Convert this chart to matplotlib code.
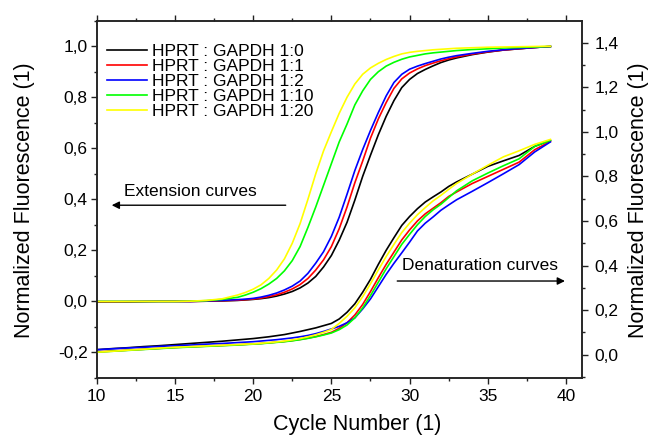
import matplotlib
matplotlib.use("Agg")
import matplotlib.pyplot as plt
from matplotlib.ticker import MultipleLocator, FuncFormatter

plt.rcParams['font.family'] = ['Liberation Sans', 'DejaVu Sans']

# ---------------- data ----------------
cycles = [10, 11, 12, 13, 14, 15, 16, 17, 18, 19,
          19.5, 20, 20.5, 21, 21.5, 22, 22.5, 23, 23.5, 24, 24.5, 25, 25.5, 26,
          26.5, 27, 27.5, 28, 28.5, 29, 29.5, 30, 30.5, 31, 31.5, 32, 32.5, 33,
          34, 35, 36, 37, 38, 39]

labels = ["HPRT : GAPDH 1:0", "HPRT : GAPDH 1:1", "HPRT : GAPDH 1:2",
          "HPRT : GAPDH 1:10", "HPRT : GAPDH 1:20"]
colors = ["#000000", "#ff0000", "#0000ff", "#00ff00", "#ffff00"]

# extension curves (left axis)
ext_1_0 = [-0.003, -0.002, -0.002, -0.001, 0, 0, 0, 0.001, 0.002, 0.004,
           0.006, 0.008, 0.011, 0.015, 0.021, 0.029, 0.039, 0.053, 0.072, 0.098,
           0.135, 0.18, 0.24, 0.31, 0.397, 0.49, 0.573, 0.653, 0.725, 0.787,
           0.838, 0.87, 0.893, 0.909, 0.923, 0.936, 0.946, 0.954,
           0.967, 0.977, 0.985, 0.99, 0.995, 0.999]
ext_1_1 = [-0.002, -0.002, -0.001, 0, 0, 0, 0, 0.001, 0.003, 0.005,
           0.007, 0.009, 0.013, 0.019, 0.026, 0.036, 0.049, 0.066, 0.09, 0.123,
           0.163, 0.215, 0.285, 0.37, 0.465, 0.55, 0.64, 0.715, 0.779, 0.835,
           0.872, 0.895, 0.911, 0.924, 0.934, 0.943, 0.951, 0.958,
           0.969, 0.978, 0.985, 0.99, 0.995, 0.999]
ext_1_2 = [0, 0, 0, 0, 0, 0, 0, 0.002, 0.004, 0.007,
           0.009, 0.012, 0.017, 0.024, 0.033, 0.045, 0.06, 0.08, 0.11, 0.15,
           0.195, 0.255, 0.33, 0.42, 0.513, 0.595, 0.67, 0.74, 0.805, 0.858,
           0.89, 0.91, 0.922, 0.932, 0.941, 0.95, 0.957, 0.963,
           0.972, 0.98, 0.986, 0.991, 0.995, 0.999]
ext_1_10 = [0, 0, 0, 0, 0, 0, 0.001, 0.003, 0.008, 0.016,
            0.025, 0.036, 0.05, 0.068, 0.09, 0.12, 0.16, 0.215, 0.29, 0.37,
            0.455, 0.54, 0.625, 0.695, 0.77, 0.825, 0.87, 0.9, 0.922, 0.937,
            0.949, 0.958, 0.964, 0.97, 0.974, 0.977, 0.98, 0.983,
            0.987, 0.99, 0.993, 0.995, 0.997, 0.999]
ext_1_20 = [0, 0, 0, 0, 0, 0, 0.001, 0.004, 0.01, 0.025,
            0.035, 0.048, 0.065, 0.09, 0.123, 0.167, 0.228, 0.305, 0.40, 0.50,
            0.59, 0.665, 0.737, 0.80, 0.852, 0.89, 0.915, 0.933, 0.948, 0.96,
            0.97, 0.976, 0.98, 0.983, 0.986, 0.988, 0.99, 0.992,
            0.994, 0.996, 0.997, 0.998, 0.999, 1.0]

# denaturation curves (right axis)
den_1_0 = [0.022, 0.027, 0.031, 0.036, 0.04, 0.045, 0.05, 0.055, 0.06, 0.066,
           0.069, 0.072, 0.076, 0.08, 0.085, 0.09, 0.097, 0.104, 0.112, 0.12,
           0.13, 0.14, 0.16, 0.19, 0.228, 0.28, 0.338, 0.405, 0.468, 0.525,
           0.58, 0.62, 0.655, 0.685, 0.708, 0.73, 0.755, 0.775,
           0.81, 0.845, 0.87, 0.894, 0.935, 0.962]
den_1_1 = [0.012, 0.016, 0.02, 0.024, 0.028, 0.032, 0.035, 0.038, 0.041, 0.044,
           0.046, 0.048, 0.05, 0.053, 0.056, 0.059, 0.063, 0.068, 0.074, 0.081,
           0.09, 0.1, 0.118, 0.143, 0.178, 0.225, 0.283, 0.345, 0.405, 0.46,
           0.515, 0.56, 0.6, 0.632, 0.657, 0.682, 0.71, 0.73,
           0.768, 0.8, 0.832, 0.864, 0.92, 0.957]
den_1_2 = [0.022, 0.026, 0.03, 0.033, 0.037, 0.04, 0.043, 0.047, 0.05, 0.054,
           0.056, 0.058, 0.061, 0.064, 0.067, 0.071, 0.075, 0.08, 0.086, 0.094,
           0.104, 0.115, 0.127, 0.143, 0.165, 0.205, 0.25, 0.305, 0.36, 0.41,
           0.457, 0.505, 0.555, 0.59, 0.618, 0.648, 0.672, 0.695,
           0.733, 0.772, 0.812, 0.853, 0.91, 0.955]
den_1_10 = [0.011, 0.015, 0.019, 0.023, 0.027, 0.031, 0.034, 0.037, 0.04, 0.043,
            0.045, 0.047, 0.049, 0.052, 0.055, 0.058, 0.062, 0.067, 0.073, 0.08,
            0.088, 0.097, 0.112, 0.133, 0.165, 0.21, 0.265, 0.325, 0.385, 0.44,
            0.495, 0.54, 0.583, 0.62, 0.65, 0.675, 0.705, 0.735,
            0.78, 0.815, 0.848, 0.879, 0.935, 0.962]
den_1_20 = [0.011, 0.015, 0.02, 0.024, 0.029, 0.033, 0.036, 0.039, 0.042, 0.045,
            0.047, 0.048, 0.051, 0.054, 0.057, 0.061, 0.066, 0.072, 0.08, 0.089,
            0.1, 0.113, 0.14, 0.172, 0.21, 0.26, 0.318, 0.38, 0.44, 0.495,
            0.548, 0.59, 0.628, 0.66, 0.69, 0.715, 0.742, 0.768,
            0.81, 0.85, 0.888, 0.915, 0.944, 0.966]

extension = [ext_1_0, ext_1_1, ext_1_2, ext_1_10, ext_1_20]
denaturation = [den_1_0, den_1_1, den_1_2, den_1_10, den_1_20]

# ---------------- figure ----------------
W, H = 650, 436
fig = plt.figure(figsize=(W / 100, H / 100), dpi=100)
ax_l, ax_r, ax_t, ax_b = 96.7, 581.7, 20.7, 378.0
ax = fig.add_axes([ax_l / W, 1 - ax_b / H, (ax_r - ax_l) / W, (ax_b - ax_t) / H])
ax2 = ax.twinx()

lw = 1.2
for vals, c, lab in zip(extension, colors, labels):
    ax.plot(cycles, vals, color=c, lw=lw, label=lab)
for vals, c in zip(denaturation, colors):
    ax2.plot(cycles, vals, color=c, lw=lw)

ax.set_xlim(10, 41)
ax.set_ylim(-0.3, 1.1)
ax2.set_ylim(-0.105, 1.499)

fmt = FuncFormatter(lambda v, p: "{:.1f}".format(round(v, 1) + 0.0).replace(".", ","))
fmt_x = FuncFormatter(lambda v, p: "{:d}".format(int(round(v))))

ax.xaxis.set_major_locator(MultipleLocator(5))
ax.xaxis.set_minor_locator(MultipleLocator(2.5))
ax.xaxis.set_major_formatter(fmt_x)
ax.yaxis.set_major_locator(MultipleLocator(0.2))
ax.yaxis.set_minor_locator(MultipleLocator(0.1))
ax.yaxis.set_major_formatter(fmt)
ax2.yaxis.set_major_locator(MultipleLocator(0.2))
ax2.yaxis.set_minor_locator(MultipleLocator(0.1))
ax2.yaxis.set_major_formatter(fmt)

tick_fs = 12.5
spine_c = "#222222"
for a in (ax, ax2):
    for s in a.spines.values():
        s.set_linewidth(1.1)
        s.set_color(spine_c)

ax.tick_params(axis="x", which="both", direction="out", top=True, bottom=True,
               labelsize=tick_fs, colors=spine_c, labelcolor="black")
ax.tick_params(axis="x", which="major", length=4.5, width=1.0, pad=3.5)
ax.tick_params(axis="x", which="minor", length=2.5, width=1.0)
ax.tick_params(axis="y", which="both", direction="out", left=True, right=False,
               labelsize=tick_fs, colors=spine_c, labelcolor="black")
ax.tick_params(axis="y", which="major", length=4.5, width=1.0, pad=2.0)
ax.tick_params(axis="y", which="minor", length=2.5, width=1.0)
ax2.tick_params(axis="y", which="both", direction="out", left=False, right=True,
                labelsize=tick_fs, colors=spine_c, labelcolor="black")
ax2.tick_params(axis="y", which="major", length=4.5, width=1.0, pad=4.5)
ax2.tick_params(axis="y", which="minor", length=2.5, width=1.0)

leg = ax.legend(loc="upper left", bbox_to_anchor=((107 - ax_l) / (ax_r - ax_l), (ax_b - 43.5) / (ax_b - ax_t)),
                frameon=False, fontsize=12.5, handlelength=2.3, handletextpad=0.3,
                labelspacing=0.0, borderpad=0.0, borderaxespad=0.0)

# annotations
ax.annotate("", xy=(10.96, 0.377), xytext=(22.08, 0.377),
            arrowprops=dict(arrowstyle="-|>", color="black", lw=1.0,
                            mutation_scale=11, shrinkA=0, shrinkB=0))
ax.text(11.75, 0.43, "Extension curves", fontsize=12.5, ha="left", va="center")
ax.annotate("", xy=(39.93, 0.08), xytext=(29.21, 0.08),
            arrowprops=dict(arrowstyle="-|>", color="black", lw=1.0,
                            mutation_scale=11, shrinkA=0, shrinkB=0))
ax.text(29.53, 0.141, "Denaturation curves", fontsize=12.5, ha="left", va="center")

# axis labels
lab_fs = 15.5
fig.text(25 / W, 1 - 200 / H, "Normalized Fluorescence (1)", rotation=90,
         ha="center", va="center", fontsize=lab_fs)
fig.text(638.5 / W, 1 - 200 / H, "Normalized Fluorescence (1)", rotation=90,
         ha="center", va="center", fontsize=lab_fs)
fig.text(357.5 / W, 1 - 424 / H, "Cycle Number (1)", ha="center", va="center",
         fontsize=lab_fs)

fig.savefig("out.png", dpi=100)
